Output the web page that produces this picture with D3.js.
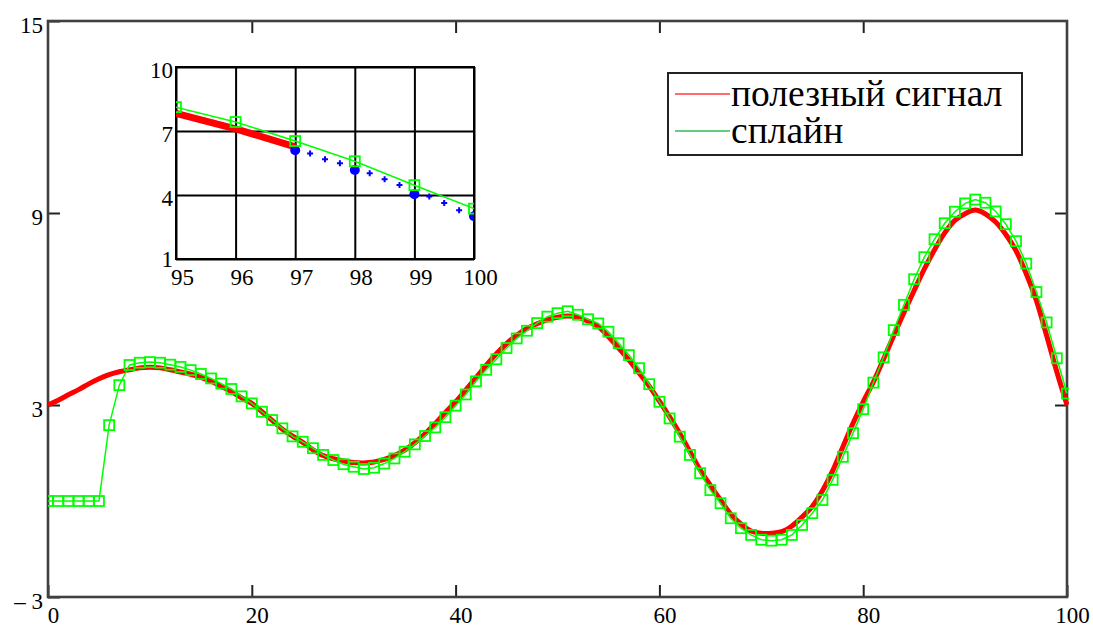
<!DOCTYPE html>
<html>
<head>
<meta charset="utf-8">
<script src="https://cdn.jsdelivr.net/npm/d3@7"></script>
<style>
  html, body { margin: 0; padding: 0; background: #ffffff; }
  svg { display: block; }
  text { font-family: "Liberation Serif", "DejaVu Serif", serif; fill: #000; }
</style>
</head>
<body>
<svg id="chart" width="1093" height="627"></svg>
<script>
// ---------------- data ----------------
const sampleX = [0,1,2,3,4,5,6,7,8,9,10,11,12,13,14,15,16,17,18,19,20,21,22,23,24,25,26,27,28,29,30,
  31,32,33,34,35,36,37,38,39,40,41,42,43,44,45,46,47,48,49,50,51,52,53,54,55,56,57,58,59,60,
  61,62,63,64,65,66,67,68,69,70,71,72,73,74,75,76,77,78,79,80,81,82,83,84,85,86,87,88,89,90,
  91,92,93,94,95,96,97,98,99,100];

// "полезный сигнал" (useful signal)
const signalY = [3.00,3.15,3.32,3.48,3.66,3.82,3.95,4.04,4.10,4.16,4.18,4.16,4.10,4.03,3.96,3.86,3.74,3.58,3.42,3.22,3.05,
  2.79,2.52,2.24,2.03,1.83,1.60,1.42,1.32,1.25,1.20,1.19,1.22,1.30,1.42,1.59,1.82,2.10,2.42,2.77,3.10,
  3.47,3.85,4.24,4.60,4.92,5.18,5.39,5.54,5.66,5.74,5.78,5.74,5.62,5.45,5.13,4.78,4.41,4.00,3.59,3.12,
  2.63,2.11,1.54,0.97,0.49,0.03,-0.41,-0.72,-0.94,-1.01,-1.01,-0.96,-0.78,-0.50,-0.17,0.32,0.94,1.69,2.43,3.10,
  3.72,4.44,5.17,5.89,6.58,7.25,7.85,8.38,8.77,8.98,9.09,8.97,8.72,8.33,7.82,7.10,6.26,5.17,4.04,3.00];

// "сплайн" (spline)
const splineY = [0,0,0,0,0,0,2.37,3.62,4.25,4.32,4.34,4.32,4.26,4.19,4.09,3.97,3.83,3.67,3.50,3.27,3.05,
  2.79,2.53,2.27,2.02,1.85,1.65,1.44,1.28,1.15,1.07,1.00,1.04,1.17,1.33,1.54,1.77,2.03,2.30,2.62,2.98,
  3.33,3.74,4.10,4.43,4.78,5.08,5.32,5.56,5.76,5.87,5.93,5.82,5.68,5.55,5.29,4.93,4.56,4.15,3.65,3.10,
  2.58,2.01,1.44,0.87,0.34,-0.07,-0.54,-0.85,-1.06,-1.21,-1.24,-1.21,-1.06,-0.75,-0.38,0.03,0.66,1.38,2.12,2.87,
  3.70,4.49,5.34,6.13,6.93,7.62,8.18,8.68,9.04,9.30,9.42,9.32,9.05,8.65,8.12,7.42,6.53,5.58,4.46,3.36];

// inset: signal samples beyond x = 97 (blue)
const blueDotX = [97, 98, 99, 100];
const blueDotY = [6.10, 5.17, 4.04, 3.00];
const blueCrossX = [97.25, 97.5, 97.75, 98.25, 98.5, 98.75, 99.25, 99.5, 99.75];
const blueCrossY = [5.95, 5.67, 5.49, 5.02, 4.74, 4.47, 3.93, 3.62, 3.28];

const mainXTicks = [0, 20, 40, 60, 80, 100];
const mainYTicks = [-3, 3, 9, 15];
const insetXTicks = [95, 96, 97, 98, 99, 100];
const insetYTicks = [1, 4, 7, 10];
const legendLabels = ["полезный сигнал", "сплайн"];

// ---------------- drawing ----------------
const svg = d3.select("#chart");
const W = { l: 48, r: 1067, t: 21, b: 597 };
const x = d3.scaleLinear().domain([0, 100]).range([W.l, W.r]);
const y = d3.scaleLinear().domain([-3, 15]).range([W.b, W.t]);

const RED = "#ff0000", GREEN = "#00ff00", BLUE = "#0000ff";
const FONT = '"Liberation Serif", serif';

function addAxis(gen, tx, ty) {
  const g = svg.append("g").attr("transform", `translate(${tx},${ty})`).call(gen);
  g.select(".domain").remove();
  g.selectAll(".tick line").attr("stroke", "#222").attr("stroke-width", 2);
  return g;
}
const fmtY = d => d < 0 ? "\u2013 " + Math.abs(d) : String(d);

const gB = addAxis(d3.axisBottom(x).tickValues(mainXTicks).tickSizeInner(-12).tickSizeOuter(0).tickPadding(0).tickFormat(d => d), 0, W.b);
gB.selectAll(".tick text").attr("font-size", 23).attr("dy", 0).attr("y", 0).attr("transform", "translate(5,26)")
  .attr("fill", "#000").style("font-family", FONT);
addAxis(d3.axisTop(x).tickValues([20, 40, 60, 80]).tickSizeInner(-12).tickSizeOuter(0).tickFormat(""), 0, W.t);
const gL = addAxis(d3.axisLeft(y).tickValues(mainYTicks).tickSizeInner(-12).tickSizeOuter(0).tickPadding(5).tickFormat(fmtY), W.l, 0);
gL.selectAll(".tick text").attr("font-size", 23).attr("dy", "0.32em").attr("transform", "translate(0,4)")
  .attr("fill", "#000").style("font-family", FONT);
addAxis(d3.axisRight(y).tickValues([3, 9]).tickSizeInner(-12).tickSizeOuter(0).tickFormat(""), W.r, 0);

// frame
svg.append("rect").attr("x", W.l).attr("y", W.t).attr("width", W.r - W.l).attr("height", W.b - W.t)
  .attr("fill", "none").attr("stroke", "#404040").attr("stroke-width", 2.6);

const defs = svg.append("defs");
defs.append("clipPath").attr("id", "mainClip").append("rect")
  .attr("x", W.l).attr("y", W.t - 10).attr("width", W.r - W.l + 2).attr("height", W.b - W.t + 10);

const plot = svg.append("g").attr("clip-path", "url(#mainClip)");
const pts = sampleX.map((d, i) => ({ x: d, s: signalY[i], g: splineY[i] }));

// red signal (dense, thick)
plot.append("path").datum(pts)
  .attr("d", d3.line().x(d => x(d.x)).y(d => y(d.s)).curve(d3.curveCatmullRom))
  .attr("fill", "none").attr("stroke", RED).attr("stroke-width", 5).attr("stroke-linejoin", "round");

// green spline
plot.append("path").datum(pts)
  .attr("d", d3.line().x(d => x(d.x)).y(d => y(d.g)))
  .attr("fill", "none").attr("stroke", GREEN).attr("stroke-width", 1.5);
plot.selectAll("rect.sq").data(pts).join("rect").attr("class", "sq")
  .attr("x", d => x(d.x) - 5).attr("y", d => y(d.g) - 5).attr("width", 10).attr("height", 10)
  .attr("fill", "none").attr("stroke", GREEN).attr("stroke-width", 1.8);

// ---------------- inset ----------------
const I = { l: 176, r: 474, t: 67, b: 259 };
const xi = d3.scaleLinear().domain([95, 100]).range([I.l, I.r]);
const yi = d3.scaleLinear().domain([1, 10]).range([I.b, I.t]);

svg.append("rect").attr("x", I.l).attr("y", I.t).attr("width", I.r - I.l).attr("height", I.b - I.t).attr("fill", "#fff");
const giX = svg.append("g").attr("transform", `translate(0,${I.b})`)
  .call(d3.axisBottom(xi).tickValues(insetXTicks).tickSizeInner(-(I.b - I.t)).tickSizeOuter(0).tickPadding(0).tickFormat(d => d));
giX.select(".domain").remove();
giX.selectAll(".tick line").attr("stroke", "#000").attr("stroke-width", 2);
giX.selectAll(".tick text").attr("font-size", 23).attr("dy", 0).attr("y", 0).attr("transform", "translate(6,26)")
  .attr("fill", "#000").style("font-family", FONT);
const giY = svg.append("g").attr("transform", `translate(${I.l},0)`)
  .call(d3.axisLeft(yi).tickValues(insetYTicks).tickSizeInner(-(I.r - I.l)).tickSizeOuter(0).tickPadding(3).tickFormat(d => d));
giY.select(".domain").remove();
giY.selectAll(".tick line").attr("stroke", "#000").attr("stroke-width", 2);
giY.selectAll(".tick text").attr("font-size", 23).attr("dy", "0.32em").attr("transform", d => d === 1 ? "translate(0,0)" : "translate(0,3)")
  .attr("fill", "#000").style("font-family", FONT);
svg.append("rect").attr("x", I.l).attr("y", I.t).attr("width", I.r - I.l).attr("height", I.b - I.t)
  .attr("fill", "none").attr("stroke", "#000").attr("stroke-width", 2);

defs.append("clipPath").attr("id", "insetClip").append("rect")
  .attr("x", I.l).attr("y", I.t).attr("width", I.r - I.l).attr("height", I.b - I.t);
const ip = svg.append("g").attr("clip-path", "url(#insetClip)");
const insetPts = pts.filter(d => d.x >= 95);
const insetRed = insetPts.filter(d => d.x <= 97);

ip.append("path").datum(insetRed)
  .attr("d", d3.line().x(d => xi(d.x)).y(d => yi(d.s)))
  .attr("fill", "none").attr("stroke", RED).attr("stroke-width", 7);
ip.append("path").datum(insetPts)
  .attr("d", d3.line().x(d => xi(d.x)).y(d => yi(d.g)))
  .attr("fill", "none").attr("stroke", GREEN).attr("stroke-width", 1.5);
const blueCross = blueCrossX.map((d, i) => ({ x: d, y: blueCrossY[i] }));
ip.selectAll("path.cross").data(blueCross).join("path").attr("class", "cross")
  .attr("d", d => `M${xi(d.x) - 3},${yi(d.y)}h6M${xi(d.x)},${yi(d.y) - 3}v6`)
  .attr("stroke", BLUE).attr("stroke-width", 2);
const blueDots = blueDotX.map((d, i) => ({ x: d, y: blueDotY[i] }));
ip.selectAll("circle.bd").data(blueDots).join("circle").attr("class", "bd")
  .attr("cx", d => xi(d.x)).attr("cy", d => yi(d.y)).attr("r", 5).attr("fill", BLUE);
ip.selectAll("rect.sq").data(insetPts).join("rect").attr("class", "sq")
  .attr("x", d => xi(d.x) - 5).attr("y", d => yi(d.g) - 5).attr("width", 10).attr("height", 10)
  .attr("fill", "none").attr("stroke", GREEN).attr("stroke-width", 1.8);

// ---------------- legend ----------------
const L = svg.append("g");
L.append("rect").attr("x", 668).attr("y", 73).attr("width", 354).attr("height", 82)
  .attr("fill", "#fff").attr("stroke", "#222").attr("stroke-width", 2);
const legendColors = ["#ff3b3b", "#33bb55"];
legendLabels.forEach((t, i) => {
  const cy = 94 + i * 37;
  L.append("line").attr("x1", 675).attr("x2", 730).attr("y1", cy).attr("y2", cy)
    .attr("stroke", legendColors[i]).attr("stroke-width", 1.5);
  L.append("text").attr("x", 731).attr("y", cy + 12).attr("font-size", 37.5).text(t);
});
</script>
</body>
</html>
